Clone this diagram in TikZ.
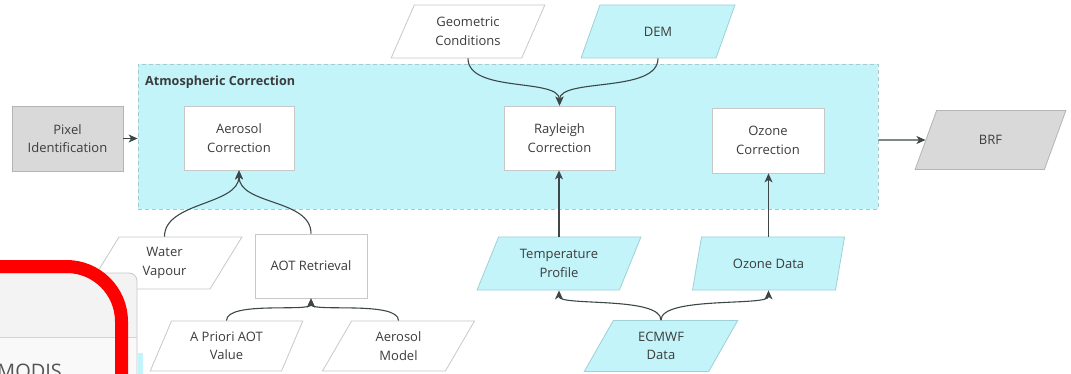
\documentclass[tikz,border=0pt]{standalone}
\usepackage{fontspec}
\setmainfont{Open Sans}
\usetikzlibrary{shapes.geometric,arrows.meta}
\definecolor{txt}{HTML}{3C3C3C}
\definecolor{boxline}{HTML}{C8C8C8}
\definecolor{grayfill}{HTML}{D9D9D9}
\definecolor{grayline}{HTML}{B4B4B4}
\definecolor{cyanfill}{HTML}{C2F4F9}
\definecolor{cyanline}{HTML}{9ED0D6}
\definecolor{atmline}{HTML}{A8CACE}
\definecolor{conncol}{HTML}{3E4748}
\definecolor{panelfill}{HTML}{F3F3F3}
\definecolor{panelline}{HTML}{C8C8C8}
\definecolor{modiscol}{HTML}{555555}
\begin{document}
\begin{tikzpicture}[x=1pt,y=-1pt,
  every node/.style={font=\fontsize{13}{18.5}\selectfont, text=txt, align=center, inner sep=0pt},
  box/.style={draw=boxline, fill=white, line width=0.8pt, rectangle},
  graybox/.style={draw=grayline, fill=grayfill, line width=0.8pt, rectangle},
  para/.style={trapezium, trapezium left angle=63.5, trapezium right angle=116.5,
    trapezium stretches=true, draw=boxline, fill=white, line width=0.8pt},
  cpara/.style={para, draw=cyanline, fill=cyanfill},
  gpara/.style={para, draw=grayline, fill=grayfill},
  atmbox/.style={draw=atmline, fill=cyanfill, dashed, dash pattern=on 4pt off 3pt, line width=0.8pt, rectangle},
  conn/.style={draw=conncol, line width=1.1pt, -{Stealth[length=9pt,width=8pt,inset=2.5pt]}}
]
\useasboundingbox (0,0) rectangle (1071,374);
\clip (0,0) rectangle (1071,374);
\fill[white] (0,0) rectangle (1071,374);

% main container
\node[atmbox, minimum width=740pt, minimum height=145pt] (atm) at (508,136.5) {};
\node[anchor=west, font=\fontsize{12.6}{14}\bfseries\selectfont] (atmt) at (145,82) {Atmospheric Correction};

% rectangles
\node[graybox, minimum width=111pt, minimum height=65pt] (pix) at (67.5,138.5) {Pixel\\Identification};
\node[box, minimum width=110pt, minimum height=64pt] (aer) at (239,138) {Aerosol\\Correction};
\node[box, minimum width=111pt, minimum height=64pt] (ray) at (559.5,138) {Rayleigh\\Correction};
\node[box, minimum width=112pt, minimum height=65pt] (ozc) at (768,140.5) {Ozone\\Correction};
\node[box, minimum width=112pt, minimum height=64pt] (aot) at (311,266) {AOT Retrieval};

% parallelograms
\node[para, minimum width=154pt, minimum height=53pt] (geo) at (468,31.5) {Geometric\\Conditions};
\node[cpara, minimum width=154pt, minimum height=53pt] (dem) at (658,31.5) {DEM};
\node[gpara, minimum width=151pt, minimum height=59pt] (brf) at (990.5,140) {BRF};
\node[para, minimum width=155pt, minimum height=52pt] (wv) at (164.5,263) {Water\\Vapour};
\node[cpara, minimum width=164pt, minimum height=53pt] (tmp) at (559,263.5) {Temperature\\Profile};
\node[cpara, minimum width=153pt, minimum height=53pt] (ozd) at (768.5,263.5) {Ozone Data};
\node[cpara, minimum width=154pt, minimum height=51pt] (ecm) at (661,346) {ECMWF\\Data};
\node[para, minimum width=153pt, minimum height=50pt] (apr) at (226.5,346) {A Priori AOT\\Value};
\node[para, minimum width=153pt, minimum height=50pt] (aem) at (398.5,346) {Aerosol\\Model};

% connectors
\draw[conn] (pix.east) -- (pix.east -| atm.west);
\draw[conn] (atm.east |- brf.center) -- (brf);
\draw[conn] (geo.center |- geo.south) .. controls +(0,35) and +(0,-28) .. (ray.north);
\draw[conn] (dem.center |- dem.south) .. controls +(0,35) and +(0,-28) .. (ray.north);
\draw[conn] (tmp.center |- tmp.north) -- (tmp.center |- ray.south);
\draw[conn] (ozd.center |- ozd.north) -- (ozd.center |- ozc.south);
\draw[conn] (ecm.center |- ecm.north) .. controls +(0,-24) and +(0,16) .. (tmp.center |- tmp.south);
\draw[conn] (ecm.center |- ecm.north) .. controls +(0,-24) and +(0,16) .. (ozd.center |- ozd.south);
\draw[conn] (wv.center |- wv.north) .. controls +(0,-35) and +(0,35) .. (aer.south);
\draw[conn] (aot.north) .. controls +(0,-35) and +(0,35) .. (aer.south);
\draw[conn] (apr.center |- apr.north) .. controls +(0,-20) and +(0,14) .. (aot.south);
\draw[conn] (aem.center |- aem.north) .. controls +(0,-20) and +(0,14) .. (aot.south);

% overlay panel
\fill[panelfill, rounded corners=8pt] (-10,273) -- (137,273) -- (137,400) -- (-10,400) -- cycle;
\fill[white!50!panelfill] (-10,337) rectangle (136.5,400);
\draw[panelline, line width=0.8pt, rounded corners=8pt] (-10,273) -- (137,273) -- (137,400);
\draw[panelline!80!white, line width=0.8pt] (-10,337) -- (136.5,337);
\fill[cyanfill] (137.6,353) rectangle (143,380);
\node[anchor=base west, font=\fontsize{20}{24}\selectfont, text=modiscol] (modis) at (-3,378) {MODIS};

% red highlight
\draw[red, line width=13pt, rounded corners=55pt] (-30,266.5) -- (121.5,266.5) -- (121.5,430);
\end{tikzpicture}
\end{document}
